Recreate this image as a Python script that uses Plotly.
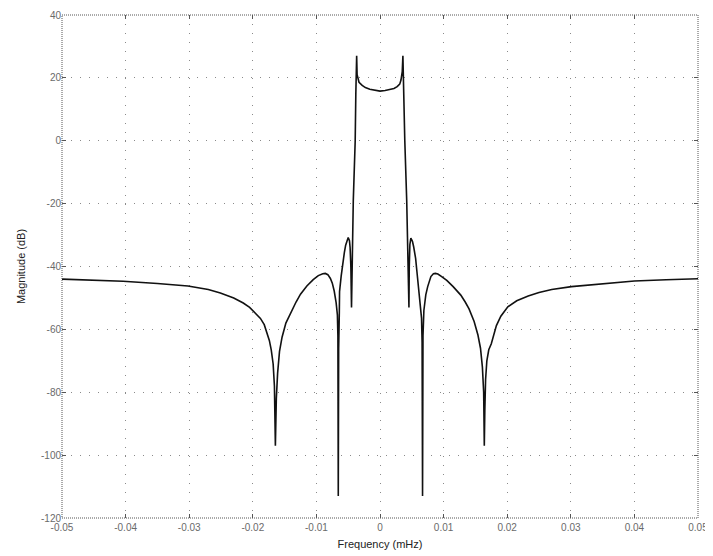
import plotly.graph_objects as go

# Frequency (mHz) and magnitude (dB)
freq_mhz = [
    -0.0500, -0.0450, -0.0404, -0.0350, -0.0302, -0.0270, -0.0251, -0.0230,
    -0.0215, -0.0205, -0.0197, -0.0188, -0.0182, -0.0178, -0.0174, -0.0171,
    -0.0168, -0.0166, -0.01652, -0.01645, -0.0163, -0.0161, -0.0158, -0.0154,
    -0.0148, -0.0140, -0.0132, -0.0125, -0.0115, -0.0105, -0.0097, -0.0090,
    -0.0086, -0.0082, -0.0078, -0.0075, -0.0072, -0.0069, -0.0067, -0.00662,
    -0.00656, -0.0065, -0.0064, -0.00636, -0.0061, -0.0059, -0.0056, -0.0054,
    -0.0052, -0.0050, -0.0048, -0.0047, -0.00458, -0.00448, -0.0042, -0.0039,
    -0.0038, -0.00367, -0.0036, -0.0034, -0.0033, -0.0028, -0.0023, -0.0016,
    -0.0010, 0.0000,
    0.0008, 0.0017, 0.0022, 0.0027, 0.0031, 0.0033, 0.0035, 0.0036,
    0.0037, 0.0039, 0.0042, 0.00445, 0.00455, 0.0046, 0.0047, 0.00485,
    0.0051, 0.0053, 0.0056, 0.0058, 0.0061, 0.0063, 0.00653, 0.00662,
    0.00669, 0.00676, 0.0069, 0.0072, 0.0075, 0.0080, 0.0084, 0.0087,
    0.0091, 0.0097, 0.0105, 0.0115, 0.0127, 0.0134, 0.0140, 0.0148,
    0.0154, 0.0158, 0.0161, 0.0163, 0.01632, 0.0164, 0.01648, 0.0166,
    0.0168, 0.0171, 0.0175, 0.0179, 0.0183, 0.0190, 0.0201, 0.0215,
    0.0233, 0.0250, 0.0270, 0.0301, 0.0350, 0.0400, 0.0450, 0.0500,
]
magnitude_db = [
    -44.0, -44.3, -44.7, -45.4, -46.2, -47.3, -48.4, -50.0,
    -51.6, -53.0, -54.5, -56.5, -58.5, -60.8, -63.5, -66.5,
    -71.0, -78.0, -85.0, -97.0, -82.0, -74.0, -67.0, -62.5,
    -58.0, -54.5, -51.3, -48.8, -46.2, -44.2, -42.9, -42.3,
    -42.2, -42.6, -43.8, -45.3, -47.8, -51.5, -55.4, -62.0,
    -113.0, -66.0, -55.0, -48.0, -43.0, -39.5, -35.5, -33.2,
    -31.5, -30.8, -31.8, -34.0, -40.0, -53.0, -19.0, 0.0,
    15.0, 27.0, 21.0, 19.3, 18.6, 17.6, 16.9, 16.4,
    16.1, 15.8,
    16.0, 16.3, 16.6, 17.2, 18.0, 19.3, 22.0, 27.0,
    15.0, 0.0, -19.0, -40.0, -53.0, -40.0, -33.0, -31.0,
    -32.0, -33.8, -37.4, -41.5, -48.0, -52.5, -56.4, -64.0,
    -113.0, -62.0, -54.0, -49.0, -46.4, -43.2, -42.3, -42.2,
    -42.4, -43.2, -44.4, -46.4, -49.1, -51.3, -53.5, -57.5,
    -61.8, -66.0, -72.0, -80.0, -86.0, -97.0, -86.0, -76.0,
    -70.0, -66.5, -64.6, -61.5, -58.8, -55.8, -52.8, -50.9,
    -49.4, -48.3, -47.3, -46.4, -45.4, -44.6, -44.2, -43.9,
]

x_tick_vals = [-0.05, -0.04, -0.03, -0.02, -0.01, 0, 0.01, 0.02, 0.03, 0.04, 0.05]
x_tick_text = ["-0.05", "-0.04", "-0.03", "-0.02", "-0.01", "0",
               "0.01", "0.02", "0.03", "0.04", "0.05"]
y_tick_vals = [-120, -100, -80, -60, -40, -20, 0, 20, 40]
y_tick_text = ["-120", "-100", "-80", "-60", "-40", "-20", "0", "20", "40"]

FONT = "Liberation Sans, Arial, sans-serif"

fig = go.Figure()
fig.add_trace(go.Scatter(
    x=freq_mhz, y=magnitude_db, mode="lines",
    line=dict(color="#111111", width=1.6),
    showlegend=False,
))

axis_common = dict(
    showgrid=True, gridcolor="#8a8a8a", griddash="1px,8px", gridwidth=1,
    zeroline=False, showline=False, mirror="ticks", automargin=False,
    ticks="inside", ticklen=4, tickcolor="#555555",
    tickfont=dict(family=FONT, size=10, color="#6a6a6a"),
)

fig.update_xaxes(
    range=[-0.05, 0.05], tickvals=x_tick_vals, ticktext=x_tick_text,
    ticklabelstandoff=2,
    title=dict(text="Frequency (mHz)", standoff=8,
               font=dict(family=FONT, size=11, color="#222222")),
    **axis_common,
)
fig.update_yaxes(
    range=[-120, 40], tickvals=y_tick_vals, ticktext=y_tick_text,
    title=dict(text="Magnitude (dB)", standoff=13,
               font=dict(family=FONT, size=11, color="#222222")),
    **axis_common,
)

fig.add_shape(type="rect", xref="paper", yref="paper", x0=0, y0=0, x1=1, y1=1,
              line=dict(color="#555555", width=1, dash="1px,1px"), layer="above")

# The page places the figure 8px in from the top-left corner
fig.update_layout(
    width=705, height=548,
    margin=dict(l=54, r=15, t=7, b=38),
    plot_bgcolor="white", paper_bgcolor="white",
)

fig.write_html("out.html")
